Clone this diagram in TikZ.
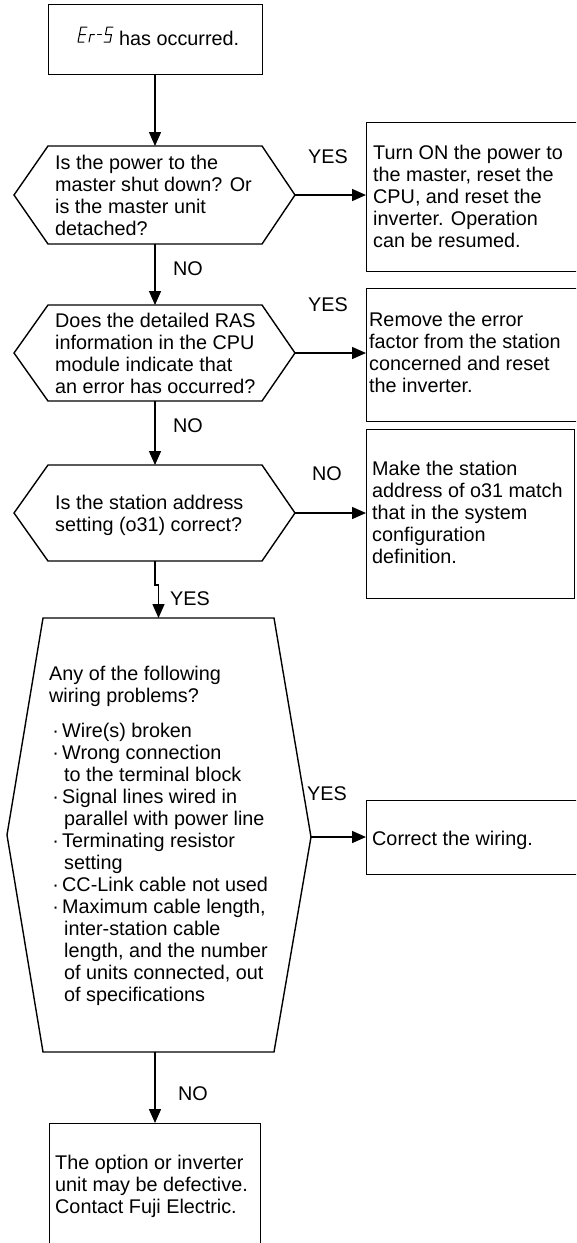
\documentclass[tikz,border=0pt]{standalone}
\usepackage{fontspec}
\setmainfont{Liberation Sans}
\usetikzlibrary{arrows.meta}
\newcommand\fs{\fontsize{19.8}{22}\selectfont}
\tikzset{
  ln/.style={line width=1.4pt},
  arr/.style={line width=1.4pt, -{Triangle[length=14pt,width=12pt]}},
  txt/.style={inner sep=0pt, anchor=base west, align=left, font=\fs},
  lbl/.style={inner sep=0pt, anchor=base west, font=\fs},
  box/.style={draw, line width=1.4pt, inner sep=0pt, anchor=north west},
  seg/.style={line width=1pt, line cap=round, line join=round},
}
\begin{document}
\begin{tikzpicture}[x=1pt,y=-1pt]
\useasboundingbox (0,0) rectangle (576,1243);
\clip (0,0) rectangle (576,1243);

% start box
\node[box, minimum width=214pt, minimum height=70pt] (start) at (48,4) {};
\draw[seg] (87,27) -- (81,27) -- (78,42) -- (84,42) (79.5,34.5) -- (85.5,34.5);
\draw[seg] (90.5,34.5) -- (89,42) (90.5,34.5) -- (94.5,34.5);
\draw[seg] (97.5,34.5) -- (101.5,34.5);
\draw[seg] (113,27) -- (107,27) -- (105.5,34.5) -- (111.5,34.5) -- (110,42) -- (104,42);
\node[lbl] (t0) at (119,45) {has occurred.};

% decision 1
\coordinate (h1l) at (14,195);  \coordinate (h1a) at (48,146);  \coordinate (h1b) at (262,146);
\coordinate (h1r) at (295,195); \coordinate (h1c) at (262,244); \coordinate (h1d) at (48,244);
\coordinate (h1t) at (155,146); \coordinate (h1s) at (155,244);
\draw[ln] (h1l) -- (h1a) -- (h1b) -- (h1r) -- (h1c) -- (h1d) -- cycle;
\node[txt] (q1) at (55,235) {Is the power to the\\master shut down? Or\\is the master unit\\detached?};

% decision 2
\coordinate (h2l) at (14,353);  \coordinate (h2a) at (48,305);  \coordinate (h2b) at (262,305);
\coordinate (h2r) at (295,353); \coordinate (h2c) at (262,401); \coordinate (h2d) at (48,401);
\coordinate (h2t) at (155,305); \coordinate (h2s) at (155,401);
\draw[ln] (h2l) -- (h2a) -- (h2b) -- (h2r) -- (h2c) -- (h2d) -- cycle;
\node[txt] (q2) at (55,393) {Does the detailed RAS\\information in the CPU\\module indicate that\\an error has occurred?};

% decision 3
\coordinate (h3l) at (14,513);  \coordinate (h3a) at (48,465);  \coordinate (h3b) at (262,465);
\coordinate (h3r) at (295,513); \coordinate (h3c) at (262,561); \coordinate (h3d) at (48,561);
\coordinate (h3t) at (155,465); \coordinate (h3s) at (155,561);
\draw[ln] (h3l) -- (h3a) -- (h3b) -- (h3r) -- (h3c) -- (h3d) -- cycle;
\node[txt] (q3) at (55,531) {Is the station address\\setting (o31) correct?};

% decision 4 (big)
\coordinate (h4l) at (7,835);   \coordinate (h4a) at (43,618);  \coordinate (h4b) at (274,618);
\coordinate (h4r) at (311,837); \coordinate (h4c) at (274,1052); \coordinate (h4d) at (43,1052);
\coordinate (h4t) at (158.5,618); \coordinate (h4s) at (155,1052);
\draw[ln] (h4l) -- (h4a) -- (h4b) -- (h4r) -- (h4c) -- (h4d) -- cycle;
\node[txt] (q4) at (49,1001) {Any of the following\\wiring problems?\\[13pt]
\makebox[13pt]{·}Wire(s) broken\\
\makebox[13pt]{·}Wrong connection\\
\hspace*{15pt}to the terminal block\\
\makebox[13pt]{·}Signal lines wired in\\
\hspace*{15pt}parallel with power line\\
\makebox[13pt]{·}Terminating resistor\\
\hspace*{15pt}setting\\
\makebox[13pt]{·}CC-Link cable not used\\
\makebox[13pt]{·}Maximum cable length,\\
\hspace*{15pt}inter-station cable\\
\hspace*{15pt}length, and the number\\
\hspace*{15pt}of units connected, out\\
\hspace*{15pt}of specifications};

% result boxes
\node[box, minimum width=240pt, minimum height=149pt] (b1) at (366,122) {};
\node[txt] (r1) at (373,247) {Turn ON the power to\\the master, reset the\\CPU, and reset the\\inverter. Operation\\can be resumed.};
\node[box, minimum width=240pt, minimum height=133pt] (b2) at (366,288) {};
\node[txt] (r2) at (369,392) {Remove the error\\factor from the station\\concerned and reset\\the inverter.};
\node[box, minimum width=208pt, minimum height=169pt] (b3) at (366,429) {};
\node[txt] (r3) at (372,563) {Make the station\\address of o31 match\\that in the system\\configuration\\definition.};
\node[box, minimum width=240pt, minimum height=74pt] (b4) at (366,800) {};
\node[txt] (r4) at (372,845) {Correct the wiring.};
\node[box, minimum width=211pt, minimum height=140pt] (b5) at (49,1123) {};
\node[txt] (r5) at (55,1213) {The option or inverter\\unit may be defective.\\Contact Fuji Electric.};

% connectors
\draw[arr] (start.south -| h1t) -- (h1t);
\draw[arr] (h1s) -- (h2t);
\draw[arr] (h2s) -- (h3t);
\coordinate (k1) at (155,585);
\coordinate (k2) at (158.5,585);
\draw[arr] (h3s) -- (k1) -- (k2) -- (h4t);
\draw[arr] (h4s) -- (h4s |- b5.north);
\draw[arr] (h1r) -- (h1r -| b1.west);
\draw[arr] (h2r) -- (h2r -| b2.west);
\draw[arr] (h3r) -- (h3r -| b3.west);
\draw[arr] (h4r) -- (h4r -| b4.west);

% labels
\node[lbl] (y1) at (308,163) {YES};
\node[lbl] (y2) at (308,311) {YES};
\node[lbl] (n3) at (312,480) {NO};
\node[lbl] (y3) at (170,605) {YES};
\node[lbl] (y4) at (307,800) {YES};
\node[lbl] (n1) at (173,275) {NO};
\node[lbl] (n2) at (173,432) {NO};
\node[lbl] (n4) at (178,1100) {NO};
\end{tikzpicture}
\end{document}
